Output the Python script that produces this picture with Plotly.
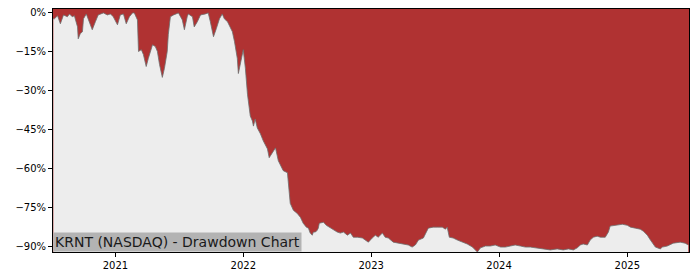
import plotly.graph_objects as go

dates = [
    "2020-07-08", "2020-07-11", "2020-07-20", "2020-07-28", "2020-08-06", "2020-08-17", "2020-08-23",
    "2020-08-31", "2020-09-06", "2020-09-15", "2020-09-17", "2020-09-23", "2020-09-29", "2020-10-02",
    "2020-10-10", "2020-10-16", "2020-10-27", "2020-11-05", "2020-11-13", "2020-11-28", "2020-12-09",
    "2020-12-18", "2020-12-26", "2021-01-07", "2021-01-15", "2021-01-24", "2021-02-01", "2021-02-10",
    "2021-02-19", "2021-02-24", "2021-03-05", "2021-03-08", "2021-03-16", "2021-03-22", "2021-03-30",
    "2021-04-05", "2021-04-17", "2021-04-25", "2021-05-01", "2021-05-07", "2021-05-15", "2021-05-21",
    "2021-05-29", "2021-06-01", "2021-06-07", "2021-06-16", "2021-06-30", "2021-07-11", "2021-07-17",
    "2021-07-25", "2021-07-28", "2021-08-09", "2021-08-14", "2021-08-23", "2021-09-01", "2021-09-15",
    "2021-09-23", "2021-09-29", "2021-10-08", "2021-10-16", "2021-10-25", "2021-11-02", "2021-11-08",
    "2021-11-17", "2021-11-22", "2021-12-01", "2021-12-07", "2021-12-15", "2021-12-18", "2021-12-27",
    "2022-01-01", "2022-01-07", "2022-01-13", "2022-01-21", "2022-01-27", "2022-01-30", "2022-02-02",
    "2022-02-04", "2022-02-10", "2022-02-19", "2022-02-27", "2022-03-11", "2022-03-16", "2022-03-25",
    "2022-04-03", "2022-04-11", "2022-04-25", "2022-05-07", "2022-05-10", "2022-05-15", "2022-05-24",
    "2022-06-04", "2022-06-13", "2022-06-21", "2022-06-30", "2022-07-06", "2022-07-11", "2022-07-17",
    "2022-07-20", "2022-07-26", "2022-07-31", "2022-08-03", "2022-08-06", "2022-08-18", "2022-08-26",
    "2022-09-07", "2022-09-15", "2022-09-26", "2022-10-05", "2022-10-14", "2022-10-25", "2022-11-03",
    "2022-11-11", "2022-11-23", "2022-12-07", "2022-12-15", "2022-12-24", "2023-01-04", "2023-01-13",
    "2023-01-21", "2023-02-02", "2023-02-10", "2023-02-19", "2023-03-05", "2023-03-20", "2023-04-03",
    "2023-04-17", "2023-04-28", "2023-05-07", "2023-05-16", "2023-05-30", "2023-06-13", "2023-06-27",
    "2023-07-09", "2023-07-23", "2023-08-01", "2023-08-06", "2023-08-12", "2023-08-23", "2023-09-04",
    "2023-09-18", "2023-10-02", "2023-10-17", "2023-10-31", "2023-11-09", "2023-11-23", "2023-12-07",
    "2023-12-21", "2024-01-05", "2024-01-19", "2024-02-02", "2024-02-16", "2024-03-02", "2024-03-16",
    "2024-03-30", "2024-04-19", "2024-05-06", "2024-05-26", "2024-06-15", "2024-07-02", "2024-07-17",
    "2024-07-31", "2024-08-11", "2024-08-20", "2024-08-28", "2024-09-09", "2024-09-17", "2024-09-26",
    "2024-10-07", "2024-10-16", "2024-10-30", "2024-11-08", "2024-11-13", "2024-11-28", "2024-12-18",
    "2025-01-01", "2025-01-10", "2025-01-24", "2025-02-07", "2025-02-16", "2025-02-27", "2025-03-08",
    "2025-03-22", "2025-04-05", "2025-04-11", "2025-04-25", "2025-05-12", "2025-06-01", "2025-06-15",
    "2025-06-24",
]

drawdown = [
    -2.3, -2.3, -1.1, -4.2, -0.8, -1.5, -0.4,
    -1.5, -1.1, -5.4, -10.0, -8.0, -7.3, -2.3,
    -0.4, -2.7, -6.5, -3.4, -0.8, 0.0, -0.8,
    -0.4, -1.5, -4.6, -0.8, -0.4, -4.2, -1.5,
    0.0, 0.0, -2.7, -14.9, -14.2, -16.1, -20.7,
    -17.6, -12.3, -13.0, -14.9, -19.9, -24.9, -21.4,
    -14.9, -8.4, -1.5, -0.8, 0.0, -2.7, -6.5,
    -1.5, -0.4, -1.5, -5.4, -3.4, -0.8, -0.4,
    0.0, -3.4, -9.2, -6.1, -2.3, -0.4, -2.3,
    -3.4, -4.6, -7.3, -11.1, -17.6, -23.4, -18.0,
    -14.2, -21.4, -31.4, -39.8, -41.7, -43.7, -42.5,
    -41.0, -44.4, -46.7, -49.4, -52.5, -55.9, -54.0,
    -52.1, -57.1, -60.9, -61.7, -67.4, -73.5, -76.2,
    -77.4, -78.9, -81.2, -82.7, -83.1, -85.0, -85.8,
    -84.6, -84.6, -83.9, -83.1, -81.2, -80.8, -82.0,
    -83.1, -83.5, -84.6, -85.0, -84.6, -85.8, -85.0,
    -86.6, -86.6, -86.9, -87.7, -88.5, -86.9, -85.8,
    -86.6, -85.0, -86.6, -86.9, -88.5, -88.9, -89.2,
    -89.6, -90.4, -89.6, -87.7, -86.9, -83.1, -82.7,
    -82.7, -82.7, -83.5, -82.7, -86.6, -86.9, -87.7,
    -88.5, -89.2, -90.4, -92.3, -90.7, -90.0, -90.0,
    -89.6, -90.4, -90.4, -90.0, -89.6, -90.0, -90.4,
    -90.4, -90.7, -91.1, -91.5, -91.1, -91.5, -91.1,
    -91.5, -90.7, -89.6, -89.2, -89.6, -87.7, -86.6,
    -86.2, -86.6, -86.6, -84.6, -82.3, -82.0, -81.6,
    -82.0, -82.7, -83.1, -83.5, -84.3, -85.8, -87.7,
    -90.4, -91.1, -90.4, -90.0, -88.9, -88.5, -88.9,
    -89.6,
]

y_ticks = [0, -15, -30, -45, -60, -75, -90]
y_tick_labels = ["0%", "\u221215%", "\u221230%", "\u221245%", "\u221260%", "\u221275%", "\u221290%"]
x_ticks = ["2021-01-01", "2022-01-01", "2023-01-01", "2024-01-01", "2025-01-01"]
x_tick_labels = ["2021", "2022", "2023", "2024", "2025"]
x_range = ["2020-07-07", "2025-06-26"]
y_range = [-92.3, 1.5]
title_text = "KRNT (NASDAQ) - Drawdown Chart"

RED = "#b03232"
GRAY = "#ededed"
FONT = "DejaVu Sans"

fig = go.Figure()
fig.add_trace(go.Scatter(
    x=dates, y=[y_range[0]] * len(dates), mode="lines",
    line=dict(width=0, color=GRAY), hoverinfo="skip", showlegend=False,
))
fig.add_trace(go.Scatter(
    x=dates, y=drawdown, mode="lines", fill="tonexty", fillcolor=GRAY,
    line=dict(width=1, color="rgba(110,110,110,0.8)"), showlegend=False,
))

fig.add_annotation(
    x=0, y=0, xref="paper", yref="paper", xanchor="left", yanchor="bottom",
    text=title_text, showarrow=False, bgcolor="#b3b3b3", borderpad=1,
    font=dict(family=FONT, size=14, color="#1a1a1a"),
)

axis_common = dict(
    showline=True, linecolor="black", linewidth=1, mirror=True,
    ticks="outside", ticklen=4, tickcolor="black", tickwidth=1,
    showgrid=False, zeroline=False,
    tickfont=dict(family=FONT, size=10, color="black"),
)

fig.update_xaxes(type="date", range=x_range, tickvals=x_ticks, ticktext=x_tick_labels, **axis_common)
fig.update_yaxes(range=y_range, tickvals=y_ticks, ticktext=y_tick_labels, **axis_common)

fig.update_layout(
    width=700, height=280,
    margin=dict(l=53, r=11, t=7, b=28),
    paper_bgcolor="white", plot_bgcolor=RED,
    font=dict(family=FONT),
)

fig.write_html("out.html")
